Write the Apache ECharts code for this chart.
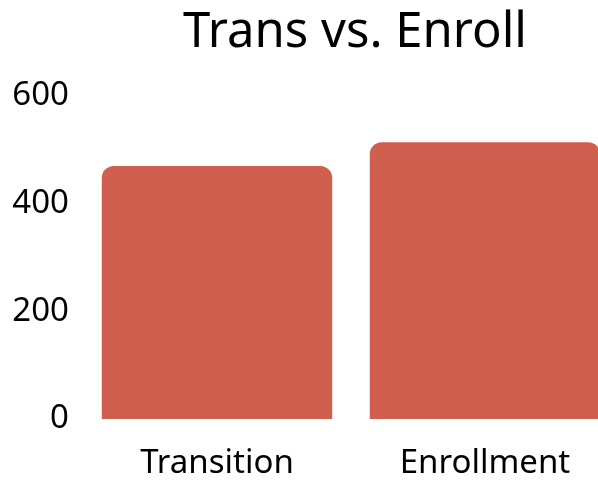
<!DOCTYPE html>
<html>
<head>
<meta charset="utf-8">
<script src="https://cdn.jsdelivr.net/npm/echarts@6/dist/echarts.min.js"></script>
<style>
  html, body { margin: 0; padding: 0; background: #fff; }
  #chart { width: 598px; height: 483px; }
</style>
</head>
<body>
<div id="chart"></div>
<script>
// data
const categories = ['Transition', 'Enrollment']
const values = [470, 514]
const yTicks = [0, 200, 400, 600]

const fontFamily = 'Noto Sans'

const chart = echarts.init(document.getElementById('chart'))
chart.setOption({
  animation: false,
  title: {
    text: 'Trans vs. Enroll',
    left: 350,
    top: 4,
    textAlign: 'center',
    textStyle: { fontFamily: fontFamily, fontSize: 49, fontWeight: 'normal', color: '#000' }
  },
  grid: { left: 83, right: -21, top: 96, bottom: 64, containLabel: false, outerBoundsMode: 'none' },
  xAxis: {
    type: 'category',
    data: categories,
    axisLine: { show: false },
    axisTick: { show: false },
    axisLabel: { fontFamily: fontFamily, fontSize: 33, color: '#000', margin: 28 }
  },
  yAxis: {
    type: 'value',
    min: yTicks[0],
    max: yTicks[yTicks.length - 1],
    interval: 200,
    splitLine: { show: false },
    axisLine: { show: false },
    axisTick: { show: false },
    axisLabel: { fontFamily: fontFamily, fontSize: 33, color: '#000', margin: 14 }
  },
  series: [
    {
      type: 'bar',
      data: values,
      barCategoryGap: '14%',
      itemStyle: { color: '#D05F4F', borderRadius: [12, 12, 0, 0] }
    }
  ]
})
</script>
</body>
</html>
